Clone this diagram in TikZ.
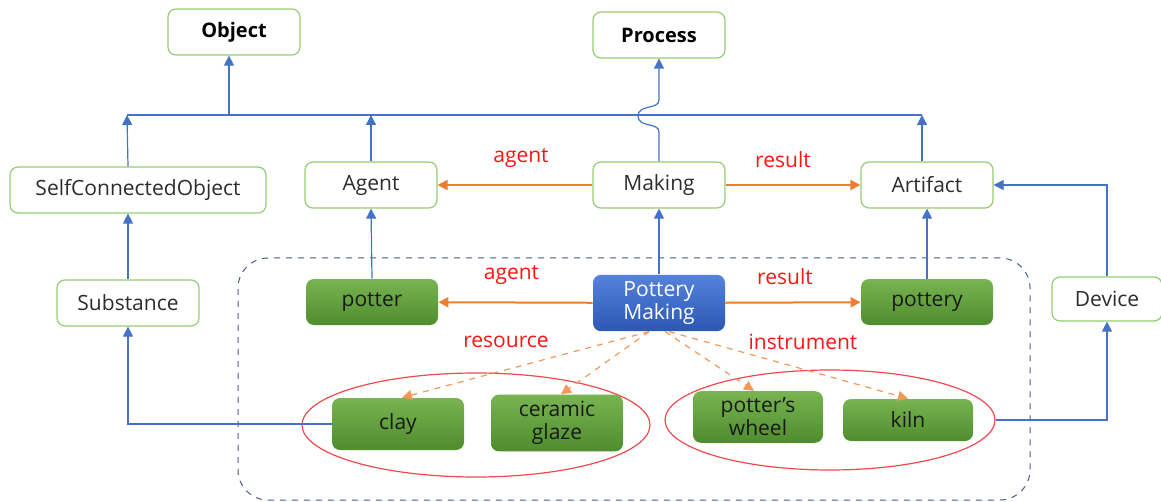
\documentclass[tikz,border=0pt]{standalone}
\usepackage{fontspec}
\setmainfont{Open Sans}
\usetikzlibrary{arrows.meta, shapes.geometric}

\definecolor{clsgreen}{RGB}{150,204,115}
\definecolor{insttop}{RGB}{120,180,80}
\definecolor{instbot}{RGB}{78,140,46}
\definecolor{pmtop}{RGB}{84,130,220}
\definecolor{pmbot}{RGB}{44,88,180}
\definecolor{isablue}{RGB}{68,114,196}
\definecolor{relorange}{RGB}{237,125,49}
\definecolor{labred}{RGB}{255,20,20}
\definecolor{framegray}{RGB}{70,90,140}
\definecolor{ellred}{RGB}{240,72,78}
\definecolor{txtgray}{RGB}{45,45,45}

\begin{document}
\begin{tikzpicture}[x=0.5pt, y=-0.5pt,
  font=\fontsize{10.5}{12}\selectfont,
  cls/.style={draw=clsgreen, line width=0.6pt, rounded corners=4pt, fill=white,
    text=txtgray, minimum width=66pt, minimum height=23pt},
  inst/.style={rounded corners=4pt, top color=insttop, bottom color=instbot,
    text=black!90, minimum width=66pt, minimum height=23pt, align=center,
    font=\fontsize{10.5}{11.5}\selectfont},
  isa/.style={draw=isablue, line width=0.6pt, -{Triangle[width=5pt,length=5pt]}},
  rel/.style={draw=relorange, line width=1pt, -{Triangle[width=5pt,length=5pt]}},
  role/.style={text=labred, font=\fontsize{10.5}{12}\selectfont},
  grp/.style={draw=ellred, line width=0.6pt, ellipse}]
\useasboundingbox (0,0) rectangle (1161,502);
% Frame of the instance level
\node[draw=framegray, dashed, line width=0.5pt, rounded corners=15pt,
  minimum width=396pt, minimum height=121pt] (frame) at (634,379) {};
% Classes
\node[cls, font=\fontsize{10}{12}\selectfont\bfseries, text=black] (obj) at (234,32) {Object};
\node[cls, font=\fontsize{10}{12}\selectfont\bfseries, text=black] (proc) at (659,35) {Process};
\node[cls, minimum width=128pt] (sco) at (138,190) {SelfConnectedObject};
\node[cls] (agent) at (371,185) {Agent};
\node[cls] (mk) at (659,185) {Making};
\node[cls] (art) at (927,185) {Artifact};
\node[cls, minimum width=71pt] (sub) at (128,303) {Substance};
\node[cls, minimum width=55pt, minimum height=22pt] (dev) at (1107,299) {Device};
% Instances
\node[grp, minimum width=174pt, minimum height=52pt] (grpA) at (476,425) {};
\node[grp, minimum width=165pt, minimum height=50pt] (grpB) at (830,420) {};
\node[inst] (potter) at (372,302) {potter};
\node[inst, top color=pmtop, bottom color=pmbot, text=white] (pm) at (659,303) {Pottery\\Making};
\node[inst] (pottery) at (927,302) {pottery};
\node[inst, minimum height=26pt] (clay) at (398,424) {clay};
\node[inst, minimum height=26pt] (glaze) at (557,423) {ceramic\\glaze};
\node[inst, minimum width=65pt] (wheel) at (758,417) {potter’s\\wheel};
\node[inst, minimum width=65pt, minimum height=21pt] (kiln) at (908,420) {kiln};
% Taxonomy bar
\coordinate (barL) at (127,115);
\coordinate (barR) at (922,115);
\draw[draw=isablue, line width=0.6pt] (barL) -- (barR);
\draw[isa] (229,115) -- (229,115 |- obj.south);
\draw[isa] (sub.north |- sco.north) -- (barL);
\draw[isa] (agent.north) -- (agent.north |- barL);
\draw[isa] (art.north -| barR) -- (barR);
\draw[isa] (mk.north) -- (659,132) .. controls (659,122) and (638,128) .. (638,116)
      .. controls (638,104) and (659,110) .. (659,100) -- (proc.south);
% Instance of
\draw[isa] (sub.north) -- (sub.north |- sco.south);
\draw[isa] (clay.west) -| (sub.south);
\draw[isa] (potter.north) -- (agent.south);
\draw[isa] (pm.north) -- (mk.south);
\draw[isa] (pottery.north) -- (art.south);
\draw[isa] (grpB.east) -| (dev.south);
\draw[isa] (dev.north) |- (art.east);
% Roles
\draw[rel] (mk) -- node[role, above=5pt, xshift=3pt] {agent} (agent);
\draw[rel] (mk) -- node[role, above=5pt, xshift=-5pt] {result} (art);
\draw[rel] (pm) -- node[role, above=5pt, xshift=-2pt] {agent} (potter);
\draw[rel] (pm) -- node[role, above=5pt, xshift=-4pt] {result} (pottery);
\draw[rel, draw=relorange!80, line width=0.6pt, dashed] ([xshift=-5pt]pm.south) -- ([xshift=2pt]clay.north);
\draw[rel, draw=relorange!80, line width=0.6pt, dashed] ([xshift=-5pt]pm.south) -- ([xshift=2pt]glaze.north);
\draw[rel, draw=relorange!80, line width=0.6pt, dashed] ([xshift=3pt]pm.south) -- ([xshift=-2pt]wheel.north);
\draw[rel, draw=relorange!80, line width=0.6pt, dashed] ([xshift=5pt]pm.south) -- ([xshift=0pt]kiln.north);
\node[role] (lres) at (506,342) {resource};
\node[role] (lins) at (803,342) {instrument};
\end{tikzpicture}
\end{document}
